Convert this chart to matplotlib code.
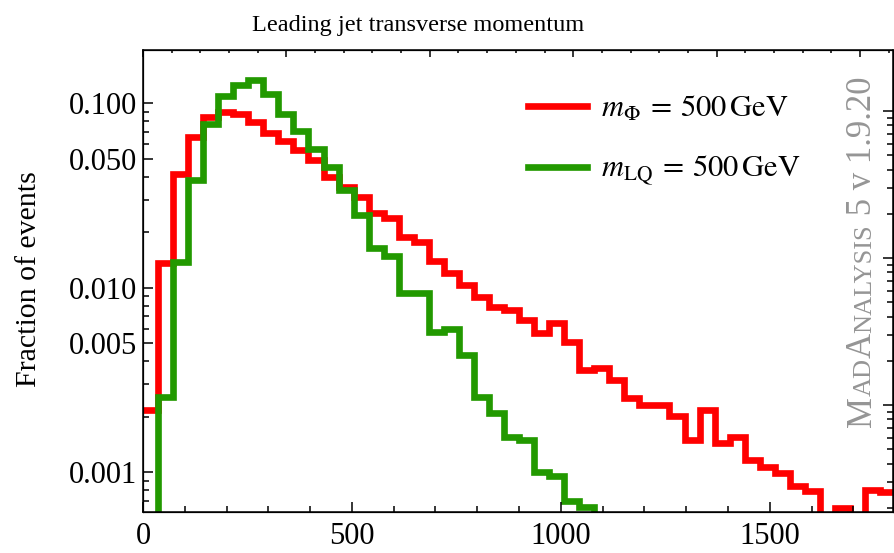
import numpy as np
import matplotlib
matplotlib.use("Agg")
import matplotlib.pyplot as plt
from matplotlib.transforms import IdentityTransform

plt.rcParams['font.family'] = ['Liberation Serif', 'DejaVu Serif']
plt.rcParams['mathtext.fontset'] = 'stix'

# 50 bins of 36 GeV from 0 to 1800
edges = np.linspace(0, 1800, 51)

red = [0.00219, 0.0137, 0.0412, 0.0660, 0.0840, 0.0900, 0.0870, 0.0795, 0.0693, 0.0625,
       0.0558, 0.0493, 0.0400, 0.0351, 0.0312, 0.0253, 0.0238, 0.0188, 0.0178, 0.0140,
       0.0121, 0.01035, 0.00895, 0.00790, 0.00758, 0.00669, 0.00571, 0.00643, 0.00510, 0.00358,
       0.00370, 0.00316, 0.00254, 0.00232, 0.00232, 0.00203, 0.00150, 0.00218, 0.00144, 0.00155,
       0.00117, 0.00107, 0.00099, 0.00084, 0.00079, 0.0, 0.00064, 0.0, 0.00080, 0.00078]

green = [0.0, 0.00257, 0.0138, 0.0384, 0.0769, 0.110, 0.1256, 0.1336, 0.112, 0.0875,
         0.0705, 0.0565, 0.0453, 0.0339, 0.0248, 0.0164, 0.0148, 0.0094, 0.0094, 0.00578,
         0.00598, 0.00433, 0.00257, 0.0021, 0.00155, 0.00150, 0.00100, 0.00095, 0.00070, 0.00065,
         0, 0, 0, 0, 0, 0, 0, 0, 0, 0,
         0, 0, 0, 0, 0, 0, 0, 0, 0, 0]

labels = [r'$m_{\Phi}\:=\:500\,\mathrm{GeV}$', r'$m_{\mathrm{LQ}}\:=\:500\,\mathrm{GeV}$']
colors = ['#ff0000', '#229900']

yticks = [0.001, 0.005, 0.010, 0.050, 0.100]
ytick_labels = ['0.001', '0.005', '0.010', '0.050', '0.100']
xticks = [0, 500, 1000, 1500]

xlim = (0, 1795)
ylim = (0.00061, 0.1945)

fig = plt.figure(figsize=(8.95, 5.53), dpi=100)
ax = fig.add_axes([143/895, 1 - 512/553, 750/895, 462/553])

for vals, c, lab in zip([red, green], colors, labels):
    v = np.clip(np.array(vals, dtype=float), 1e-7, None)
    ax.stairs(v, edges, baseline=None, color=c, lw=4.8, label=lab, joinstyle='miter')

ax.set_yscale('log')

ax.set_yticks(yticks)
ax.set_yticklabels(ytick_labels)
minor_y = [m * 10.0**e for e in (-4, -3, -2, -1) for m in range(2, 10)]
minor_y = [t for t in minor_y if ylim[0] < t < ylim[1] and t not in (0.005, 0.05)]
ax.set_yticks(minor_y, minor=True)
ax.set_xticks(xticks)
ax.set_xticks(np.arange(0, 1800, 100), minor=True)
ax.set_xlim(xlim)
ax.set_ylim(ylim)
ax.tick_params(which='both', direction='in', labelsize=22, width=1.1, top=False, right=False)
ax.tick_params(which='major', length=7, pad=4.5)
ax.tick_params(which='minor', length=4.5)
ax.tick_params(axis='x', pad=7)
for s in ax.spines.values():
    s.set_linewidth(1.1)

# frame ticks on top and right use their own spacing
axt = ax.twiny()
axt.set_xticks(np.arange(0, 1790, 343.2))
axt.set_xticks(np.arange(0, 1790, 68.64), minor=True)
axt.set_xlim(xlim)
axt.tick_params(which='both', direction='in', labeltop=False, width=1.1)
axt.tick_params(which='major', length=5)
axt.tick_params(which='minor', length=2.5)

axr = ax.twinx()
axr.set_yscale('log')
top_log = -1.042
dec = 0.797
rmaj = [10**(top_log - dec * k) for k in range(3)]
rmin = [10**(top_log - dec * k - dec * np.log10(10 / m)) for k in range(3) for m in range(2, 10)]
rmin = [t for t in rmin if ylim[0] < t < ylim[1]]
axr.set_yticks(rmaj)
axr.set_yticks(rmin, minor=True)
axr.tick_params(which='both', direction='in', labelright=False, width=1.1)
axr.tick_params(which='major', length=7)
axr.tick_params(which='minor', length=4.5)
axr.set_ylim(ylim)
ax.set_ylim(ylim)

leg = ax.legend(loc='upper left', bbox_to_anchor=(0.513, 0.903), frameon=False,
                fontsize=22, handlelength=1.95, handletextpad=0.45, labelspacing=0.98,
                borderpad=0, borderaxespad=0)

fig.text(418/895, 1 - 31/553, 'Leading jet transverse momentum', ha='center',
         va='baseline', fontsize=17.5)
fig.text(29/895, 1 - 279/553, 'Fraction of events', rotation=90, ha='center',
         va='center', fontsize=21.5)

# small caps watermark, built piece by piece
pieces = [('M', 25), ('AD', 19), ('A', 25), ('NALYSIS', 19), (' 5 v 1.9.20', 25)]
renderer = fig.canvas.get_renderer()
ypos = 553 - 427
for txt, size in pieces:
    t = fig.text(871, ypos, txt, rotation=90, rotation_mode='anchor', ha='left',
                 va='baseline', fontsize=size, color='#959595', transform=IdentityTransform())
    bb = t.get_window_extent(renderer)
    ypos += bb.height

fig.savefig('out.png', dpi=100)
